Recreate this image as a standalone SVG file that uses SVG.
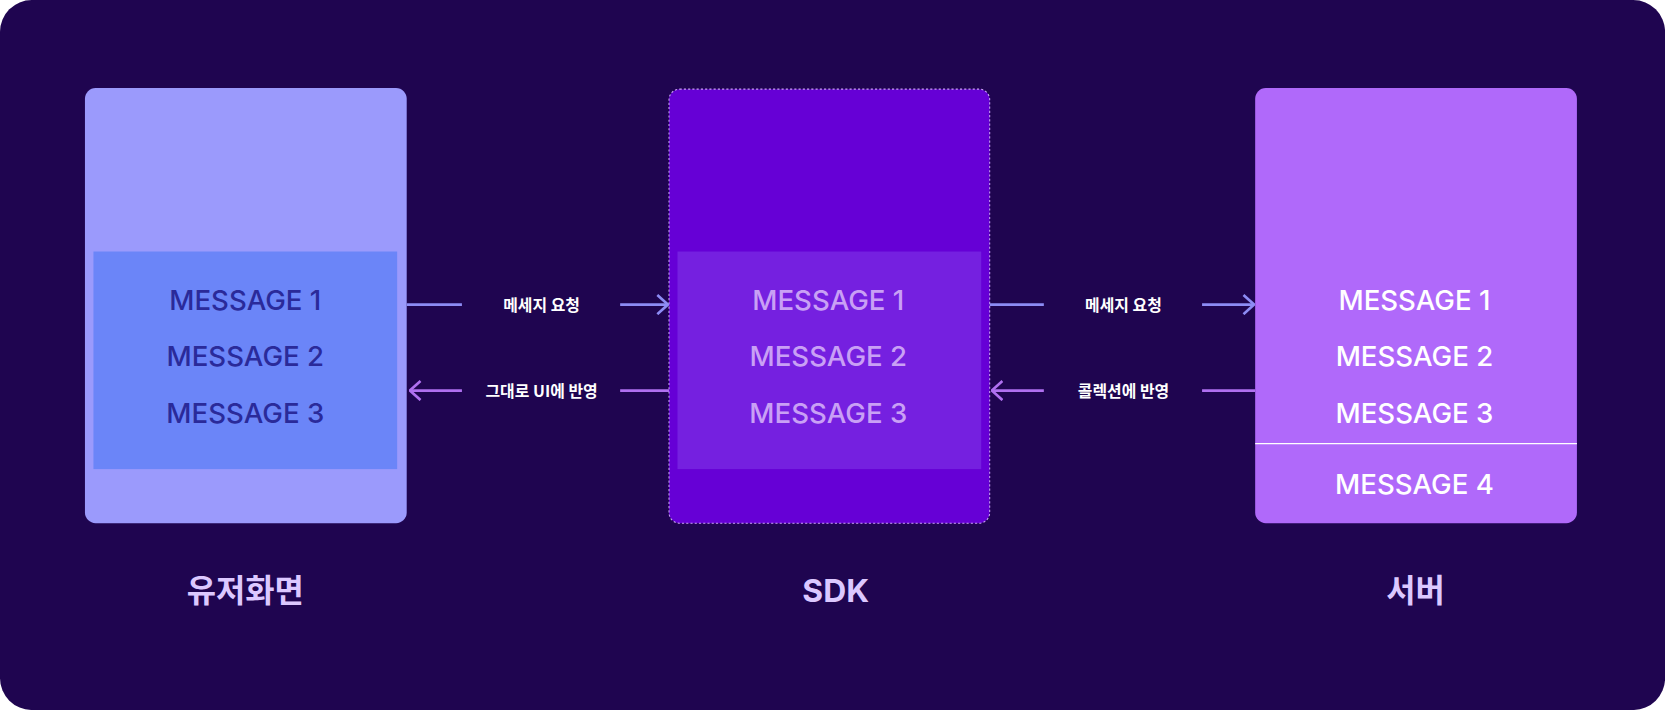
<svg xmlns="http://www.w3.org/2000/svg" width="1665" height="710" viewBox="0 0 1665 710">
<style>
.m{font-family:Inter,"Liberation Sans",sans-serif;font-size:26px;font-weight:500;text-anchor:middle}
.l{font-family:"Noto Sans CJK KR",sans-serif;font-size:15px;font-weight:700;fill:#ffffff;text-anchor:middle}
.t{font-family:Inter,"Noto Sans CJK KR",sans-serif;font-size:30px;font-weight:700;fill:#dcc8ff;text-anchor:middle}
.a1{stroke:#8d8cf5;stroke-width:2.5;fill:none}
.a2{stroke:#b070f0;stroke-width:2.5;fill:none}
</style>
<defs>
<marker id="h1" viewBox="0 0 12 20" refX="11" refY="10" markerWidth="12" markerHeight="20" markerUnits="userSpaceOnUse" orient="auto"><path d="M1,1 L11,10 L1,19" fill="none" stroke="#8d8cf5" stroke-width="2.5"/></marker>
<marker id="h2" viewBox="0 0 12 20" refX="11" refY="10" markerWidth="12" markerHeight="20" markerUnits="userSpaceOnUse" orient="auto"><path d="M1,1 L11,10 L1,19" fill="none" stroke="#b070f0" stroke-width="2.5"/></marker>
</defs>
<g transform="scale(1.0619,1.0613)">
<rect x="0" y="0" width="1568" height="669" rx="30" fill="#1f0550"/>
<g id="user">
<rect x="80" y="83" width="303" height="410" rx="10" fill="#9b9afc"/>
<rect x="88" y="237" width="286" height="205" fill="#6b85f8"/>
<g class="m" fill="#2a2a9a"><text x="231" y="292">MESSAGE 1</text><text x="231" y="345">MESSAGE 2</text><text x="231" y="399">MESSAGE 3</text></g>
<text class="t" x="231" y="567">유저화면</text>
</g>
<g id="sdk">
<rect x="630" y="84" width="302" height="409" rx="10" fill="#6600d6" stroke="#c9a0f5" stroke-width="1" stroke-dasharray="2 2"/>
<rect x="638" y="237" width="286" height="205" fill="#7520e0"/>
<g class="m" fill="#c9a0f5"><text x="780" y="292">MESSAGE 1</text><text x="780" y="345">MESSAGE 2</text><text x="780" y="399">MESSAGE 3</text></g>
<text class="t" x="787" y="567">SDK</text>
</g>
<g id="server">
<rect x="1182" y="83" width="303" height="410" rx="10" fill="#b069fa"/>
<line x1="1182" y1="418" x2="1485" y2="418" stroke="#ffffff" stroke-width="1.2"/>
<g class="m" fill="#ffffff"><text x="1332" y="292">MESSAGE 1</text><text x="1332" y="345">MESSAGE 2</text><text x="1332" y="399">MESSAGE 3</text><text x="1332" y="465">MESSAGE 4</text></g>
<text class="t" x="1333" y="567">서버</text>
</g>
<g id="connectors">
<line class="a1" x1="383" y1="287" x2="435" y2="287"/>
<line class="a1" x1="584" y1="287" x2="629" y2="287" marker-end="url(#h1)"/>
<text class="l" x="510" y="293">메세지 요청</text>
<line class="a2" x1="630" y1="368" x2="584" y2="368"/>
<line class="a2" x1="435" y1="368" x2="386" y2="368" marker-end="url(#h2)"/>
<text class="l" x="510" y="374">그대로 UI에 반영</text>
<line class="a1" x1="932" y1="287" x2="983" y2="287"/>
<line class="a1" x1="1132" y1="287" x2="1181" y2="287" marker-end="url(#h1)"/>
<text class="l" x="1058" y="293">메세지 요청</text>
<line class="a2" x1="1182" y1="368" x2="1132" y2="368"/>
<line class="a2" x1="983" y1="368" x2="934" y2="368" marker-end="url(#h2)"/>
<text class="l" x="1058" y="374">콜렉션에 반영</text>
</g>
</g>
</svg>
